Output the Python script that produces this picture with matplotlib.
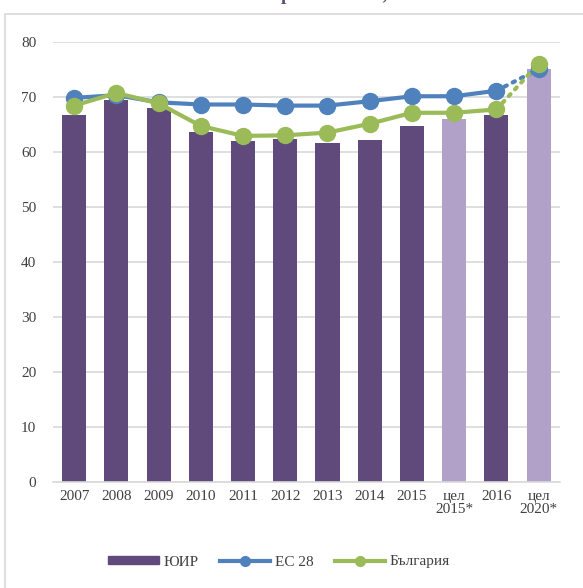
import matplotlib.pyplot as plt
import numpy as np
from matplotlib.patches import Rectangle
from matplotlib.lines import Line2D
from matplotlib.patches import Patch

plt.rcParams['font.family'] = ['Liberation Serif', 'DejaVu Serif']

# data
categories = ['2007', '2008', '2009', '2010', '2011', '2012', '2013', '2014',
              '2015', 'цел\n2015*', '2016', 'цел\n2020*']
yuir = [66.7, 69.5, 68.0, 63.6, 61.9, 62.4, 61.6, 62.2, 64.7, 66.0, 66.7, 75.0]
eu28 = [69.8, 70.3, 69.0, 68.6, 68.6, 68.4, 68.4, 69.2, 70.1, 70.1, 71.1, 75.0]
bulgaria = [68.4, 70.7, 68.8, 64.7, 62.9, 63.0, 63.5, 65.1, 67.1, 67.1, 67.7, 76.0]
is_target = [False] * 9 + [True, False, True]

dark = '#604A7B'
light = '#B1A0C7'
blue = '#4F81BD'
green = '#9BBB59'

fig = plt.figure(figsize=(5.83, 5.88), dpi=100)
ax = fig.add_axes([0.091, 0.18, 0.869, 0.749])

# outer frame
fig.patches.append(Rectangle((5 / 583, -0.01), 1.0, 1 - 14 / 588 + 0.01,
                             transform=fig.transFigure, fill=False,
                             edgecolor='#D9D9D9', linewidth=1.2))

# title, mostly above the visible area (as in the source image)
fig.text(0.49, 1 + 0.5 / 588, 'Заетост на възраст 20-64 г., %', ha='center',
         va='baseline', fontsize=13.5, fontweight='bold', color=dark)

x = np.arange(len(categories))
colors = [light if t else dark for t in is_target]
ax.bar(x, yuir, 0.57, color=colors, zorder=2)

ms = 11.5
ax.plot(x[:11], eu28[:11], color=blue, lw=3, marker='o', ms=ms, zorder=3)
ax.plot(x[10:], eu28[10:], color=blue, lw=3, ls=(0, (0.6, 1.6)), zorder=3,
        dash_capstyle='round')
ax.plot(x[11:], eu28[11:], color=blue, marker='o', ms=ms, ls='none', zorder=3)
ax.plot(x[:11], bulgaria[:11], color=green, lw=3, marker='o', ms=ms, zorder=4)
ax.plot(x[10:], bulgaria[10:], color=green, lw=3, ls=(0, (0.6, 1.6)), zorder=4,
        dash_capstyle='round')
ax.plot(x[11:], bulgaria[11:], color=green, marker='o', ms=ms, ls='none', zorder=4)

ax.set_ylim(0, 80)
ax.set_yticks(range(0, 81, 10))
ax.set_xlim(-0.5, 11.5)
ax.set_xticks(x)
ax.set_xticklabels(categories, fontsize=11, color='#404040', linespacing=1.0)
ax.tick_params(axis='y', labelsize=11, labelcolor='#404040', length=0, pad=12)
ax.tick_params(axis='x', length=0, pad=6)
ax.yaxis.grid(True, color='#D9D9D9', lw=1.2, zorder=0)
ax.set_axisbelow(True)
for s in ['top', 'right', 'left']:
    ax.spines[s].set_visible(False)
ax.spines['bottom'].set_color('#D9D9D9')
ax.spines['bottom'].set_linewidth(1.2)

handles = [Patch(color=dark, label='ЮИР'),
           Line2D([0], [0], color=blue, lw=3, marker='o', ms=7, label='ЕС 28'),
           Line2D([0], [0], color=green, lw=3, marker='o', ms=7, label='България')]
leg = fig.legend(handles=handles, loc='center', bbox_to_anchor=(0.479, 1 - 562 / 588),
                 ncol=3, frameon=False, fontsize=11, handlelength=3.3,
                 handleheight=0.5, columnspacing=1.4, handletextpad=0.3)
for t in leg.get_texts():
    t.set_color('#404040')

fig.savefig('out.png', dpi=100)
